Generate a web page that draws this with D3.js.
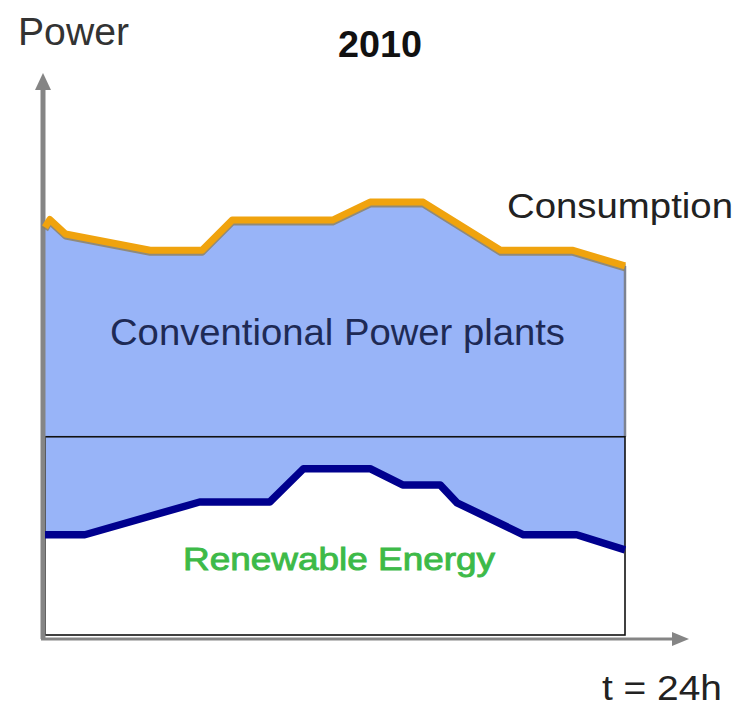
<!DOCTYPE html>
<html>
<head>
<meta charset="utf-8">
<script src="https://cdn.jsdelivr.net/npm/d3@7"></script>
<style>
  html, body { margin: 0; padding: 0; background: #fff; }
  svg { display: block; font-family: "Liberation Sans", Arial, sans-serif; }
</style>
</head>
<body>
<svg id="chart" width="735" height="707"></svg>
<script>
// Daily load profile, 0..24 h, power in arbitrary units (0..100)
const consumptionHours = [0, 0.2, 0.85, 4.35, 6.5, 7.75, 11.9, 13.45, 15.65, 18.85, 21.85, 24];
const consumptionPower = [72.8, 74.2, 71.6, 68.7, 68.7, 74.1, 74.1, 77.3, 77.3, 68.7, 68.7, 65.9];

const renewableHours = [0, 1.65, 6.4, 9.3, 10.7, 13.45, 14.8, 16.35, 17.05, 19.8, 22.0, 24];
const renewablePower = [17.9, 17.9, 23.75, 23.75, 29.7, 29.7, 26.8, 26.8, 23.6, 17.9, 17.9, 15.2];

// Level of the horizontal reference line drawn across the plot
const referenceLevel = [35.4];

const titleText = "2010";
const yAxisLabel = "Power";
const xAxisLabel = "t = 24h";
const seriesLabels = ["Consumption", "Conventional Power plants", "Renewable Energy"];

const svg = d3.select("#chart");

const x = d3.scaleLinear().domain([0, 24]).range([45, 625]);
const y = d3.scaleLinear().domain([0, 100]).range([635, 75]);

const consumption = consumptionHours.map((h, i) => ({ h, p: consumptionPower[i] }));
const renewable = renewableHours.map((h, i) => ({ h, p: renewablePower[i] }));

const line = d3.line().x(d => x(d.h)).y(d => y(d.p));

// Conventional generation fills the gap between consumption and renewables
const band = consumption.concat(renewable.slice().reverse());
svg.append("path")
  .attr("d", line(band) + "Z")
  .attr("fill", "#98b4f8");

// Right edge of the band
svg.append("line")
  .attr("x1", x(24)).attr("x2", x(24))
  .attr("y1", y(consumptionPower[consumptionPower.length - 1]))
  .attr("y2", y(referenceLevel[0]))
  .attr("stroke", "#7d8390").attr("stroke-width", 2.5);

// Box below the reference level
svg.append("rect")
  .attr("x", x(0)).attr("y", y(referenceLevel[0]))
  .attr("width", x(24) - x(0))
  .attr("height", y(0) - y(referenceLevel[0]))
  .attr("fill", "none")
  .attr("stroke", "#111").attr("stroke-width", 1.6);

// Axes with arrowheads
const axisColor = "#858585";
svg.append("line")
  .attr("x1", x(0) - 2).attr("x2", x(0) - 2)
  .attr("y1", y(0) + 4).attr("y2", y(100) + 12)
  .attr("stroke", axisColor).attr("stroke-width", 5);
svg.append("path")
  .attr("d", `M${x(0) - 2},${y(100) - 2} L${x(0) - 10},${y(100) + 15} L${x(0) + 6},${y(100) + 15} Z`)
  .attr("fill", axisColor);

svg.append("line")
  .attr("x1", x(0) - 4).attr("x2", 676)
  .attr("y1", y(0) + 4).attr("y2", y(0) + 4)
  .attr("stroke", axisColor).attr("stroke-width", 3);
svg.append("path")
  .attr("d", `M689,${y(0) + 4} L672,${y(0) - 3} L672,${y(0) + 11} Z`)
  .attr("fill", axisColor);

// Series lines
svg.append("path")
  .attr("d", line(consumption))
  .attr("transform", "translate(0,2)")
  .attr("fill", "none").attr("stroke", "#8f7f5a").attr("stroke-width", 7)
  .attr("stroke-linejoin", "round").attr("opacity", 0.8);
svg.append("path")
  .attr("d", line(consumption))
  .attr("fill", "none").attr("stroke", "#f0a30e").attr("stroke-width", 7)
  .attr("stroke-linejoin", "round");

svg.append("path")
  .attr("d", line(renewable))
  .attr("fill", "none").attr("stroke", "#00008e").attr("stroke-width", 7.5)
  .attr("stroke-linejoin", "round");

// Labels
function label(txt, px, py, size, color, opts = {}) {
  const t = svg.append("text")
    .attr("x", px).attr("y", py)
    .attr("font-size", size)
    .attr("fill", color)
    .text(txt);
  if (opts.weight) t.attr("font-weight", opts.weight);
  if (opts.anchor) t.attr("text-anchor", opts.anchor);
  if (opts.len) t.attr("textLength", opts.len).attr("lengthAdjust", "spacingAndGlyphs");
  if (opts.thicken) t.attr("stroke", color).attr("stroke-width", opts.thicken);
  return t;
}

label(yAxisLabel, 18, 45, 39, "#333", { len: 111 });
label(titleText, 380, 57, 37, "#111", { weight: "bold", anchor: "middle", len: 84 });
label(seriesLabels[0], 507, 218, 35, "#222", { len: 226 });
label(seriesLabels[1], 110, 345, 37, "#1e2a55", { len: 455 });
label(seriesLabels[2], 183, 570, 32, "#3dba48", { len: 312, thicken: 0.9 });
label(xAxisLabel, 602, 700, 35, "#222", { len: 120 });
</script>
</body>
</html>
